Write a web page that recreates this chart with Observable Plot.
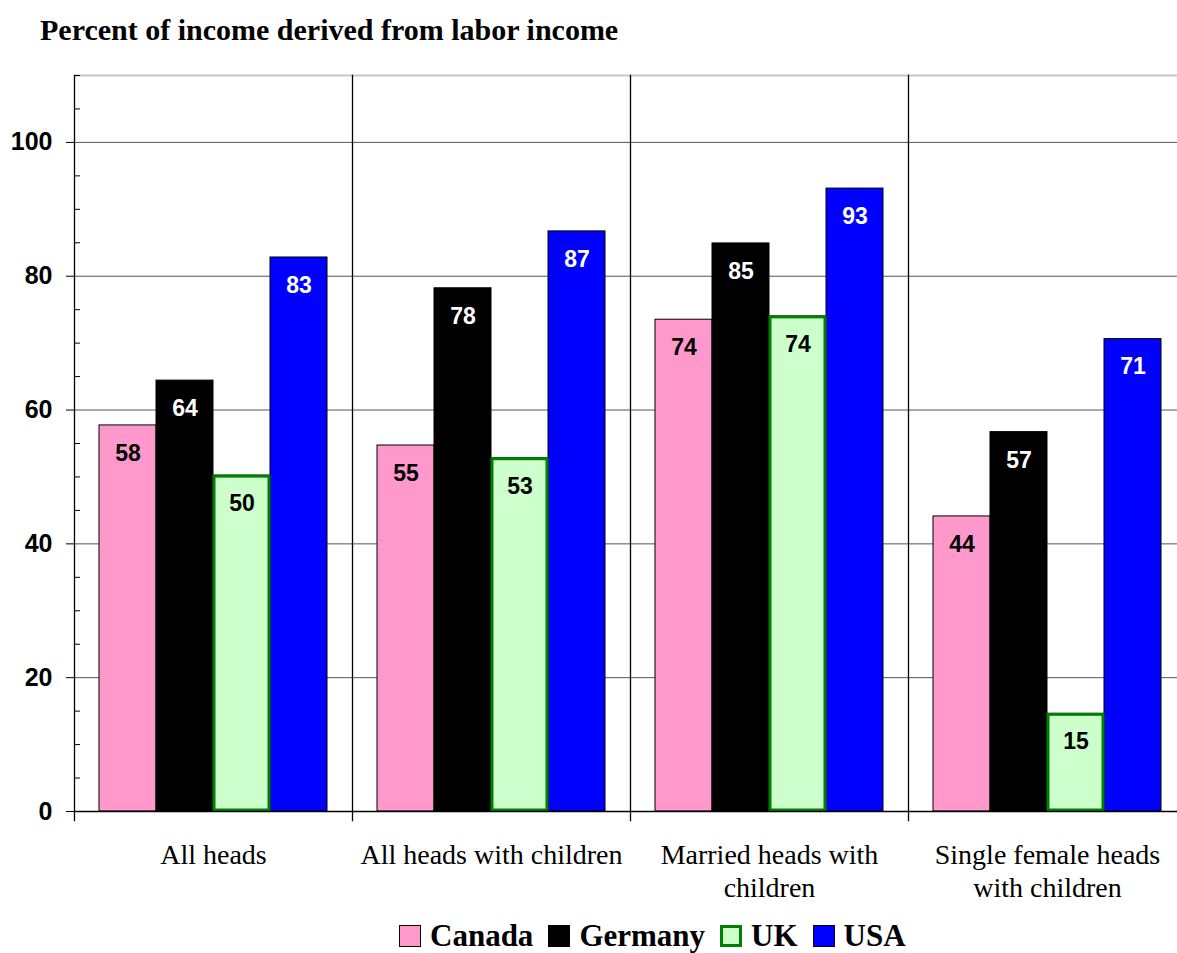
<!DOCTYPE html>
<html>
<head>
<meta charset="utf-8">
<script src="https://cdn.jsdelivr.net/npm/d3@7"></script>
<script src="https://cdn.jsdelivr.net/npm/@observablehq/plot@0.6"></script>
<style>
  html, body { margin: 0; padding: 0; background: #fff; }
  body { width: 1177px; height: 953px; overflow: hidden; position: relative; }
  #title { position: absolute; left: 40px; top: 13px; font-family: "Liberation Serif", "Times New Roman", serif; font-weight: bold; font-size: 30px; line-height: normal; color: #000; white-space: nowrap; }
  #chart { position: absolute; left: 0; top: 50px; }
  #legend { position: absolute; left: 399px; top: 918px; display: flex; align-items: center; font-family: "Liberation Serif", "Times New Roman", serif; font-weight: bold; font-size: 31px; line-height: normal; white-space: nowrap; }
  .item { display: flex; align-items: center; margin-right: 15px; }
  .sw { width: 22px; height: 22px; box-sizing: border-box; border: 1px solid #000; margin-right: 9px; }
</style>
</head>
<body>
<div id="title">Percent of income derived from labor income</div>
<div id="chart"></div>
<div id="legend"></div>
<script>
const categories = ["All heads", "All heads with children", "Married heads with\nchildren", "Single female heads\nwith children"];
const countries = ["Canada", "Germany", "UK", "USA"];
const canada  = [57.7, 54.7, 73.5, 44.1];
const germany = [64.4, 78.2, 84.9, 56.7];
const uk      = [50.2, 52.8, 74.0, 14.6];
const usa     = [82.8, 86.7, 93.1, 70.6];
const majorTicks = [0, 20, 40, 60, 80, 100];
const minorTicks = [5, 10, 15, 25, 30, 35, 45, 50, 55, 65, 70, 75, 85, 90, 95, 105, 110];
const fills = ["#ff99cc", "#000000", "#ccffcc", "#0000ff"];
const darkLabel = ["Canada", "UK"];

const series = [canada, germany, uk, usa];
const data = categories.flatMap((c, i) => countries.map((k, j) => ({category: c, country: k, value: series[j][i]})));

const chart = Plot.plot({
  width: 1177,
  height: 865,
  marginLeft: 74,
  marginRight: -9,
  marginTop: 25,
  marginBottom: 104,
  style: {fontFamily: "'Liberation Sans', Arial, sans-serif", background: "transparent"},
  fx: {domain: categories, padding: 0, label: null, axis: null},
  x: {domain: countries, paddingInner: 0, paddingOuter: 0.43, axis: null},
  y: {domain: [0, 110], axis: null},
  color: {domain: countries, range: fills},
  marks: [
    Plot.ruleY([20, 40, 60, 80, 100], {stroke: "#555", strokeWidth: 1}),
    Plot.ruleY([110], {stroke: "#c8c8c8", strokeWidth: 2}),
    Plot.frame({anchor: "left", stroke: "#000", strokeWidth: 1.3, insetBottom: -9}),
    Plot.barY(data, {fx: "category", x: "country", y: "value", fill: "country", stroke: "#000", strokeWidth: 1}),
    Plot.barY(data.filter(d => d.country === "UK"), {fx: "category", x: "country", y: "value", fill: "country", stroke: "#008000", strokeWidth: 3, inset: 1}),
    Plot.ruleY([0], {stroke: "#000", strokeWidth: 1.5}),
    Plot.axisY({ticks: majorTicks, tickSize: 8, tickPadding: 14, fontSize: 25, fontWeight: "bold", label: null, stroke: "#000"}),
    Plot.axisY({ticks: minorTicks, tickSize: -6, tickFormat: () => "", label: null, stroke: "#000"}),
    Plot.axisFx({anchor: "bottom", tickSize: 0, tickPadding: 28, fontSize: 28, fontFamily: "'Liberation Serif', 'Times New Roman', serif", lineHeight: 1.21, label: null}),
    Plot.text(data.filter(d => darkLabel.includes(d.country)), {fx: "category", x: "country", y: "value", text: d => Math.round(d.value), dy: 28, fill: "#000", fontSize: 23, fontWeight: "bold"}),
    Plot.text(data.filter(d => !darkLabel.includes(d.country)), {fx: "category", x: "country", y: "value", text: d => Math.round(d.value), dy: 28, fill: "#fff", fontSize: 23, fontWeight: "bold"})
  ]
});
document.getElementById("chart").appendChild(chart);

const legend = document.getElementById("legend");
countries.forEach((k, j) => {
  const item = document.createElement("div");
  item.className = "item";
  const sw = document.createElement("div");
  sw.className = "sw";
  sw.style.background = fills[j];
  if (k === "UK") { sw.style.border = "3px solid #008000"; }
  const t = document.createElement("span");
  t.textContent = k;
  item.appendChild(sw);
  item.appendChild(t);
  legend.appendChild(item);
});
</script>
</body>
</html>
